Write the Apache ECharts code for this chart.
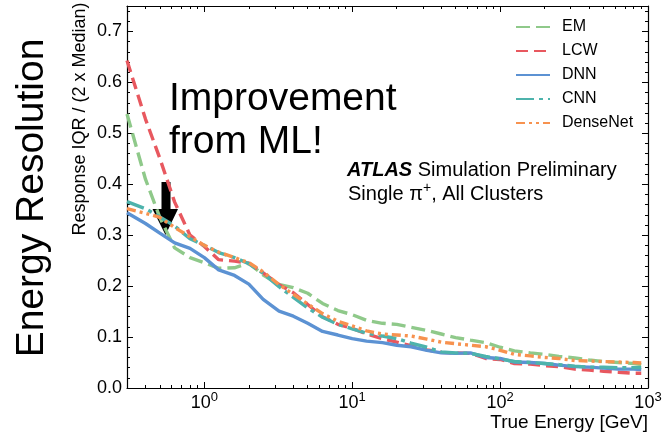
<!DOCTYPE html>
<html>
<head>
<meta charset="utf-8">
<script src="https://cdn.jsdelivr.net/npm/echarts@6/dist/echarts.min.js"></script>
<style>
  html, body { margin: 0; padding: 0; background: #fff; }
  #chart { width: 666px; height: 439px; }
</style>
</head>
<body>
<div id="chart"></div>
<script>
// True energy bins [GeV]
const energy = [0.3, 0.4, 0.5, 0.63, 0.8, 1, 1.25, 1.6, 2, 2.5, 3.2, 4, 5, 6.3, 8, 10,
  12.5, 16, 20, 25, 32, 40, 50, 63, 80, 100, 125, 160, 200, 250, 320, 400, 500, 630, 800, 900];

// Response IQR / (2 x Median) per calibration
const emRes = [0.538, 0.41, 0.335, 0.275, 0.256, 0.246, 0.235, 0.236, 0.245, 0.222, 0.203, 0.197,
  0.186, 0.166, 0.152, 0.144, 0.133, 0.127, 0.125, 0.119, 0.113, 0.106, 0.099, 0.094, 0.089,
  0.080, 0.073, 0.069, 0.066, 0.062, 0.059, 0.055, 0.052, 0.050, 0.048, 0.046];
const lcwRes = [0.643, 0.528, 0.451, 0.365, 0.300, 0.278, 0.252, 0.249, 0.245, 0.226, 0.203, 0.187,
  0.164, 0.140, 0.125, 0.117, 0.106, 0.097, 0.090, 0.083, 0.075, 0.070, 0.069, 0.068, 0.058,
  0.056, 0.048, 0.047, 0.044, 0.042, 0.037, 0.035, 0.033, 0.031, 0.029, 0.029];
const dnnRes = [0.344, 0.323, 0.304, 0.285, 0.274, 0.256, 0.232, 0.221, 0.204, 0.174, 0.151, 0.141,
  0.127, 0.111, 0.104, 0.097, 0.092, 0.089, 0.084, 0.081, 0.074, 0.069, 0.068, 0.069, 0.060,
  0.058, 0.051, 0.050, 0.048, 0.045, 0.042, 0.041, 0.039, 0.037, 0.037, 0.036];
const cnnRes = [0.366, 0.352, 0.336, 0.318, 0.293, 0.280, 0.266, 0.256, 0.244, 0.225, 0.199, 0.178,
  0.157, 0.139, 0.125, 0.116, 0.108, 0.102, 0.097, 0.088, 0.080, 0.071, 0.069, 0.068, 0.062,
  0.057, 0.052, 0.050, 0.048, 0.046, 0.043, 0.041, 0.041, 0.040, 0.040, 0.040];
const denseRes = [0.352, 0.343, 0.335, 0.315, 0.297, 0.280, 0.267, 0.256, 0.246, 0.228, 0.203, 0.184,
  0.165, 0.146, 0.131, 0.122, 0.112, 0.106, 0.104, 0.102, 0.096, 0.090, 0.087, 0.084, 0.081,
  0.074, 0.066, 0.063, 0.060, 0.058, 0.054, 0.053, 0.052, 0.051, 0.050, 0.049];

// Axis ticks
const xMajorTicks = [1, 10, 100, 1000];
const xMinorTicks = [0.4, 0.5, 0.6, 0.7, 0.8, 0.9, 2, 3, 4, 5, 6, 7, 8, 9,
  20, 30, 40, 50, 60, 70, 80, 90, 200, 300, 400, 500, 600, 700, 800, 900];
const yMajorTicks = [0, 0.1, 0.2, 0.3, 0.4, 0.5, 0.6, 0.7];
const yMinorTicks = [0.02, 0.04, 0.06, 0.08, 0.12, 0.14, 0.16, 0.18, 0.22, 0.24, 0.26, 0.28,
  0.32, 0.34, 0.36, 0.38, 0.42, 0.44, 0.46, 0.48, 0.52, 0.54, 0.56, 0.58, 0.62, 0.64, 0.66, 0.68,
  0.72, 0.74];

const FONT = "'Liberation Sans', Arial, Helvetica, sans-serif";

const seriesDefs = [
  { name: 'EM', values: emRes, color: '#8fc98a', dash: [14, 6] },
  { name: 'LCW', values: lcwRes, color: '#e8585f', dash: [12, 6] },
  { name: 'DNN', values: dnnRes, color: '#5c92d3', dash: 'solid' },
  { name: 'CNN', values: cnnRes, color: '#4db3ac', dash: [18, 5, 4, 5] },
  { name: 'DenseNet', values: denseRes, color: '#f7924f', dash: [9, 4, 3, 4, 3, 4] }
];

const X_MIN = 0.3, X_MAX = 1000, Y_MIN = 0, Y_MAX = 0.75;

function xAxisDef(position, ticks, len, showLine, showLabel) {
  return {
    type: 'log', logBase: 10, min: X_MIN, max: X_MAX, position: position,
    axisLine: { show: showLine, onZero: false, lineStyle: { color: '#000', width: 1.2 } },
    axisTick: { show: true, inside: true, length: len, customValues: ticks,
      lineStyle: { color: '#000', width: 1 } },
    axisLabel: showLabel ? {
      show: true, customValues: xMajorTicks, margin: 3,
      fontFamily: FONT, fontSize: 18, color: '#000', lineHeight: 24,
      formatter: function (v) {
        return '10{s|' + Math.round(Math.log10(v)) + '}';
      },
      rich: { s: { fontFamily: FONT, fontSize: 13, color: '#000', verticalAlign: 'top', lineHeight: 13 } }
    } : { show: false },
    splitLine: { show: false },
    minorTick: { show: false }
  };
}

function yAxisDef(position, ticks, len, showLine, showLabel) {
  return {
    type: 'value', min: Y_MIN, max: Y_MAX, position: position,
    axisLine: { show: showLine, onZero: false, lineStyle: { color: '#000', width: 1.2 } },
    axisTick: { show: true, inside: true, length: len, customValues: ticks,
      lineStyle: { color: '#000', width: 1 } },
    axisLabel: showLabel ? {
      show: true, customValues: yMajorTicks, margin: 5,
      fontFamily: FONT, fontSize: 18, color: '#000',
      formatter: function (v) { return v.toFixed(1); }
    } : { show: false },
    splitLine: { show: false }
  };
}

const chart = echarts.init(document.getElementById('chart'), null, { renderer: 'canvas' });

chart.setOption({
  animation: false,
  backgroundColor: '#fff',
  grid: { left: 127, top: 6, width: 521, height: 382, containLabel: false },
  xAxis: [
    xAxisDef('bottom', xMajorTicks, 6, true, true),
    xAxisDef('bottom', xMinorTicks, 3, false, false),
    xAxisDef('top', xMajorTicks, 6, true, false),
    xAxisDef('top', xMinorTicks, 3, false, false)
  ],
  yAxis: [
    yAxisDef('left', yMajorTicks, 6, true, true),
    yAxisDef('left', yMinorTicks, 3, false, false),
    yAxisDef('right', yMajorTicks, 6, true, false),
    yAxisDef('right', yMinorTicks, 3, false, false)
  ],
  legend: {
    orient: 'vertical', left: 515, top: 19, padding: 0,
    itemWidth: 34, itemHeight: 16, itemGap: 8,
    data: seriesDefs.map(s => s.name),
    itemStyle: { opacity: 0 },
    textStyle: { fontFamily: FONT, fontSize: 16, color: '#000', lineHeight: 16, padding: [0, 0, 0, 7] }
  },
  series: seriesDefs.map(s => ({
    name: s.name, type: 'line', xAxisIndex: 0, yAxisIndex: 0,
    data: energy.map((e, i) => [e, s.values[i]]),
    symbol: 'none', showSymbol: false, smooth: false,
    color: s.color,
    lineStyle: { color: s.color, width: 3.4, type: s.dash, cap: 'butt' },
    emphasis: { disabled: true }
  })),
  graphic: [
    {
      type: 'text', x: 32.7, y: 198, rotation: Math.PI / 2,
      style: { text: 'Energy Resolution', font: '39px ' + FONT, fill: '#000',
        align: 'center', verticalAlign: 'middle' }
    },
    {
      type: 'text', x: 80, y: 119, rotation: Math.PI / 2,
      style: { text: 'Response IQR / (2 x Median)', font: '18px ' + FONT, fill: '#000',
        align: 'center', verticalAlign: 'middle' }
    },
    {
      type: 'text', x: 648, y: 422.7,
      style: { text: 'True Energy [GeV]', font: '19px ' + FONT, fill: '#000',
        align: 'right', verticalAlign: 'middle' }
    },
    {
      type: 'text', x: 169, y: 78,
      style: { text: 'Improvement\nfrom ML!', font: '39px ' + FONT, fill: '#000',
        lineHeight: 43, align: 'left', verticalAlign: 'top' }
    },
    {
      type: 'polygon',
      shape: { points: [[161.5, 182], [170.5, 182], [170.5, 209], [178, 209], [165.5, 235], [152.5, 209], [161.5, 209]] },
      style: { fill: '#000' }
    },
    {
      type: 'text', x: 347, y: 170,
      style: {
        text: '{b|ATLAS} Simulation Preliminary',
        font: '20px ' + FONT, fill: '#000', align: 'left', verticalAlign: 'middle',
        rich: { b: { fontFamily: FONT, fontSize: 20, fontWeight: 'bold', fontStyle: 'italic', fill: '#000' } }
      }
    },
    {
      type: 'text', x: 348, y: 194,
      style: {
        text: 'Single \u03c0{s|+}, All Clusters',
        font: '20px ' + FONT, fill: '#000', align: 'left', verticalAlign: 'middle', lineHeight: 26,
        rich: { s: { fontFamily: FONT, fontSize: 14, fill: '#000', verticalAlign: 'top', lineHeight: 14 } }
      }
    }
  ]
});
</script>
</body>
</html>
